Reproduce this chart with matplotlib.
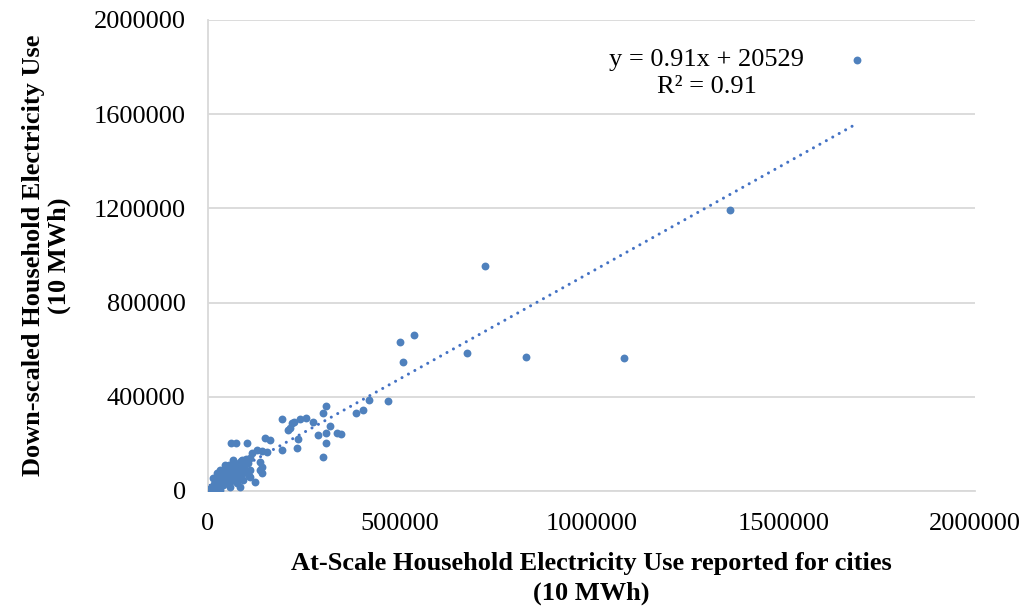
import matplotlib
matplotlib.use("Agg")
import matplotlib.pyplot as plt
from matplotlib.ticker import FuncFormatter
import numpy as np

plt.rcParams["font.family"] = ["Liberation Serif", "DejaVu Serif"]

# at-scale (reported) vs down-scaled household electricity use, 10 MWh
x_reported = [
    # outliers / upper range
    1692000, 1361000, 722000, 537000, 501000, 508000, 675000, 829000, 1085000,
    469000, 420000, 404000, 386000, 308000, 300000, 193000, 219000, 224000,
    240000, 255000, 274000, 318000, 214000, 209000, 287000, 308000, 336000,
    347000, 235000, 308000, 232000, 193000, 300000,
    # mid cluster
    60000, 73000, 102000, 149000, 162000, 115000, 128000, 141000, 154000,
    136000, 141000, 136000, 141000, 123000, 107000, 83000,
    # dense cluster
    5000, 8000, 10000, 12000, 15000, 18000, 20000, 22000, 25000, 28000,
    30000, 32000, 35000, 38000, 40000, 42000, 45000, 48000, 50000, 52000,
    55000, 58000, 60000, 62000, 65000, 68000, 70000, 72000, 75000, 78000,
    80000, 82000, 85000, 88000, 90000, 95000, 100000, 105000, 110000,
    30000, 40000, 50000, 60000, 70000, 80000, 90000, 100000, 110000,
    15000, 25000, 20000, 30000, 40000, 50000, 60000, 45000, 55000,
    65000, 44000, 31000, 23000, 13000, 109000, 91000, 76000, 57000, 31000,
    35000, 45000, 55000, 65000, 75000, 85000, 95000, 28000, 38000, 48000,
    58000, 68000, 78000, 88000, 3000, 6000, 9000, 18000, 26000, 36000,
    12000, 20000, 27000, 34000, 42000, 50000, 57000, 64000, 72000, 80000,
    17000, 24000, 33000, 41000, 53000, 62000, 70000, 83000, 93000, 102000,
]
y_downscaled = [
    1830000, 1193000, 955000, 662000, 633000, 548000, 586000, 569000, 565000,
    382000, 386000, 344000, 331000, 361000, 331000, 306000, 289000, 293000,
    306000, 310000, 293000, 276000, 268000, 259000, 238000, 246000, 246000,
    242000, 221000, 204000, 183000, 174000, 144000,
    204000, 204000, 204000, 225000, 217000, 161000, 174000, 170000, 166000,
    123000, 102000, 89000, 76000, 38000, 64000, 17000,
    8000, 12000, 15000, 10000, 20000, 14000, 25000, 18000, 30000, 22000,
    35000, 28000, 40000, 30000, 48000, 36000, 55000, 42000, 60000, 50000,
    70000, 55000, 80000, 65000, 90000, 72000, 100000, 85000, 110000, 95000,
    120000, 105000, 125000, 110000, 130000, 115000, 135000, 120000, 140000,
    15000, 25000, 35000, 40000, 50000, 60000, 70000, 80000, 90000,
    5000, 12000, 40000, 55000, 70000, 85000, 100000, 95000, 110000,
    132000, 110000, 89000, 76000, 55000, 59000, 47000, 34000, 17000, 4000,
    48000, 62000, 75000, 88000, 98000, 108000, 100000, 38000, 52000, 64000,
    76000, 86000, 92000, 96000, 5000, 9000, 11000, 24000, 32000, 45000,
    22000, 32000, 42000, 52000, 64000, 74000, 86000, 96000, 106000, 116000,
    28000, 20000, 46000, 58000, 66000, 92000, 80000, 98000, 104000, 126000,
]

slope = 0.91
intercept = 20529

pt_color = "#4F81BD"

fig = plt.figure(figsize=(10.27, 6.06), dpi=100)
ax = fig.add_axes([0.2025, 0.19, 0.747, 0.777])

ax.scatter(x_reported, y_downscaled, s=32, color=pt_color, zorder=3, linewidths=0)

xs = np.array([min(x_reported), max(x_reported)])
ax.plot(xs, slope * xs + intercept, color="#4472C4", linestyle=(0, (0.01, 2.4)),
        linewidth=2.2, dash_capstyle="round", solid_capstyle="round", zorder=2)

ax.set_xlim(0, 2000000)
ax.set_ylim(0, 2000000)
ax.set_xticks(np.arange(0, 2000001, 500000))
ax.set_yticks(np.arange(0, 2000001, 400000))
fmt = FuncFormatter(lambda v, p: f"{int(v)}")
ax.xaxis.set_major_formatter(fmt)
ax.yaxis.set_major_formatter(fmt)
ax.tick_params(axis="y", length=0, labelsize=19, pad=16)
ax.tick_params(axis="x", length=0, labelsize=19, pad=16)
ax.grid(axis="y", color="#D9D9D9", linewidth=1.3)
ax.set_axisbelow(True)
for side in ["top", "right"]:
    ax.spines[side].set_visible(False)
ax.spines["left"].set_color("#D9D9D9")
ax.spines["bottom"].set_color("#D9D9D9")
ax.spines["left"].set_linewidth(1.3)
ax.spines["bottom"].set_linewidth(1.3)

ax.set_xlabel("At-Scale Household Electricity Use reported for cities\n(10 MWh)",
              fontsize=19, fontweight="bold", labelpad=12, linespacing=1.4)
ax.set_ylabel("Down-scaled Household Electricity Use\n(10 MWh)",
              fontsize=19, fontweight="bold", labelpad=16, linespacing=1.15)

ax.text(0.650, 0.887, "y = 0.91x + 20529\nR² = 0.91", transform=ax.transAxes,
        ha="center", va="center", fontsize=19, linespacing=1.3)

plt.savefig("out.png", dpi=100)
